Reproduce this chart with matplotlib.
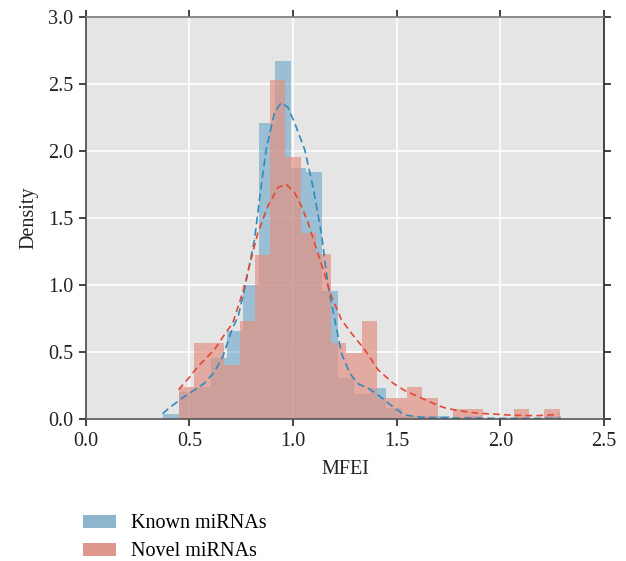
import numpy as np
import matplotlib
matplotlib.use('Agg')
import matplotlib.pyplot as plt
from matplotlib.patches import Patch

plt.rcParams['font.family'] = ['Liberation Serif', 'DejaVu Serif']

# --- histogram data (density) ---
known_lo, known_hi = 0.374, 2.2915
known_heights = [0.04, 0.20, 0.237, 0.454, 0.654, 0.998, 2.206, 2.67, 1.876, 1.839,
                 0.958, 0.304, 0.19, 0.234, 0.085, 0.022, 0.022, 0.022, 0.0, 0.022,
                 0.0, 0.0, 0.0, 0.0, 0.022]

novel_lo, novel_hi = 0.448, 2.2855
novel_heights = [0.237, 0.567, 0.567, 0.40, 0.728, 1.22, 2.53, 1.956, 1.39, 1.228,
                 0.567, 0.49, 0.728, 0.155, 0.155, 0.242, 0.155, 0.0, 0.075, 0.075,
                 0.0, 0.0, 0.075, 0.0, 0.075]

# --- kde curves ---
known_kde_x = [0.37, 0.41, 0.475, 0.524, 0.572, 0.62, 0.661, 0.701, 0.737, 0.766, 0.814,
               0.838, 0.870, 0.911, 0.943, 0.975, 1.007, 1.056, 1.096, 1.136, 1.169,
               1.201, 1.233, 1.273, 1.314, 1.362, 1.426, 1.491, 1.539, 1.62, 1.8, 2.0, 2.29]
known_kde_y = [0.04, 0.092, 0.167, 0.217, 0.267, 0.35, 0.466, 0.65, 0.778, 0.97, 1.34,
               1.64, 2.01, 2.288, 2.36, 2.325, 2.21, 2.01, 1.73, 1.39, 0.99,
               0.741, 0.492, 0.342, 0.262, 0.23, 0.16, 0.08, 0.03, 0.013, 0.008, 0.005, 0.005]

novel_kde_x = [0.448, 0.5, 0.54, 0.62, 0.669, 0.709, 0.758, 0.83, 0.879, 0.927, 0.967,
               1.007, 1.04, 1.072, 1.104, 1.145, 1.185, 1.233, 1.281, 1.346, 1.41,
               1.483, 1.539, 1.604, 1.668, 1.725, 1.797, 1.894, 1.974, 2.039, 2.103,
               2.168, 2.233, 2.281]
novel_kde_y = [0.22, 0.312, 0.391, 0.516, 0.63, 0.716, 0.95, 1.39, 1.589, 1.727, 1.751,
               1.689, 1.589, 1.465, 1.31, 1.115, 0.915, 0.741, 0.641, 0.516, 0.367,
               0.267, 0.212, 0.167, 0.122, 0.087, 0.062, 0.043, 0.037, 0.03, 0.027,
               0.025, 0.03, 0.035]

labels = ['Known miRNAs', 'Novel miRNAs']
blue = '#348ABD'
red = '#E24A33'
red_bar = '#E19486'
fs = 14.5

fig = plt.figure(figsize=(6.26, 5.61), dpi=100)
ax = fig.add_axes([0.137, 0.253, 0.828, 0.717])
ax.set_facecolor('#E5E5E5')
ax.grid(True, color='white', linewidth=1.2)
ax.set_axisbelow(True)

known_edges = np.linspace(known_lo, known_hi, len(known_heights) + 1)
novel_edges = np.linspace(novel_lo, novel_hi, len(novel_heights) + 1)

ax.bar(known_edges[:-1], known_heights, width=np.diff(known_edges), align='edge',
       color=blue, alpha=0.42, linewidth=0)
ax.bar(novel_edges[:-1], novel_heights, width=np.diff(novel_edges), align='edge',
       color=red_bar, alpha=0.72, linewidth=0)
ax.plot(known_kde_x, known_kde_y, color=blue, linestyle=(0, (4.5, 2.5)), linewidth=1.2)
ax.plot(novel_kde_x, novel_kde_y, color=red, linestyle=(0, (4, 2.5)), linewidth=1.2)

ax.set_xlim(0, 2.5)
ax.set_ylim(0, 3.0)
ax.set_xticks(np.arange(0, 2.51, 0.5))
ax.set_yticks(np.arange(0, 3.01, 0.5))
ax.tick_params(direction='out', length=5, width=1.2, color='#222222',
               labelsize=fs, labelcolor='#222222', top=True, right=True,
               labeltop=False, labelright=False, pad=4)
for side, c in [('left', '#444444'), ('bottom', '#555555'), ('top', '#777777'), ('right', '#222222')]:
    ax.spines[side].set_color(c)
    ax.spines[side].set_linewidth(1.2)

ax.set_xlabel('MFEI', fontsize=fs, color='#222222', labelpad=7)
ax.set_ylabel('Density', fontsize=fs, color='#222222', labelpad=7)

handles = [Patch(facecolor='#8DB5CD', edgecolor='none'),
           Patch(facecolor='#DF968C', edgecolor='none')]
fig.legend(handles, labels, loc='upper left', bbox_to_anchor=(0.1326, 0.083),
           frameon=False, fontsize=fs, borderpad=0, borderaxespad=0,
           handlelength=1.65, handleheight=0.65, handletextpad=0.75, labelspacing=0.45)

fig.savefig('out.png', dpi=100)
